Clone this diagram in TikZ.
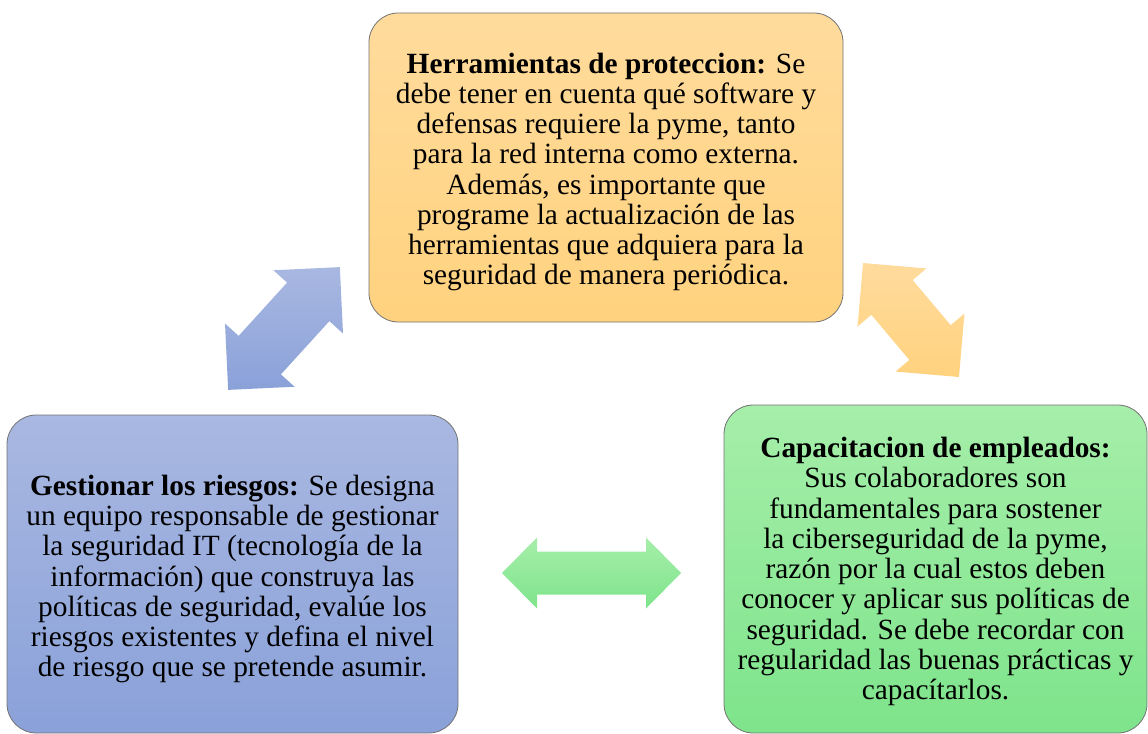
\documentclass[tikz,border=0pt]{standalone}
\usepackage{fontspec}
\setmainfont{Liberation Serif}
\definecolor{orangetop}{HTML}{FFDB9C}
\definecolor{orangebot}{HTML}{FFD27E}
\definecolor{bluetop}{HTML}{A9B8E1}
\definecolor{bluebot}{HTML}{8AA1D9}
\definecolor{greentop}{HTML}{A6EEAA}
\definecolor{greenbot}{HTML}{7EE48B}
\tikzset{
    block/.style={
        draw=black!55,
        line width=0.6pt,
        rounded corners=22pt,
        align=center,
        inner sep=0pt,
        font=\fontsize{22}{22.7}\selectfont,
    },
    % block arrow along the x axis, tips at -\al and \al
    dblarrow/.pic={
        \shade[pic actions] (-\al,0) -- (-\al+\ah,\hh) -- (-\al+\ah,\hs)
            -- (\al-\ah,\hs) -- (\al-\ah,\hh) -- (\al,0) -- (\al-\ah,-\hh)
            -- (\al-\ah,-\hs) -- (-\al+\ah,-\hs) -- (-\al+\ah,-\hh) -- cycle;
    }
}

\begin{document}
\begin{tikzpicture}[x=0.75pt, y=-0.75pt]
\useasboundingbox (0,0) rectangle (1148,734);

\node[block, minimum width=355.5pt, minimum height=231.75pt,
      top color=orangetop, bottom color=orangebot] (tools) at (606,167.5)
      {\rule{0pt}{22pt}\textbf{Herramientas de proteccion:} Se\\
       debe tener en cuenta qué software y\\
       defensas requiere la pyme, tanto\\
       para la red interna como externa.\\
       Además, es importante que\\
       programe la actualización de las\\
       herramientas que adquiera para la\\
       seguridad de manera periódica.};
\node[block, minimum width=338.25pt, minimum height=238.5pt,
      top color=bluetop, bottom color=bluebot] (risks) at (232.5,574)
      {\rule{0pt}{23pt}\textbf{Gestionar los riesgos:} Se designa\\
       un equipo responsable de gestionar\\
       la seguridad IT (tecnología de la\\
       información) que construya las\\
       políticas de seguridad, evalúe los\\
       riesgos existentes y defina el nivel\\
       de riesgo que se pretende asumir.};
\node[block, minimum width=317.25pt, minimum height=246pt,
      top color=greentop, bottom color=greenbot] (staff) at (935.5,569)
      {\rule{0pt}{19pt}\textbf{Capacitacion de empleados:}\\
       Sus colaboradores son\\
       fundamentales para sostener\\
       la ciberseguridad de la pyme,\\
       razón por la cual estos deben\\
       conocer y aplicar sus políticas de\\
       seguridad. Se debe recordar con\\
       regularidad las buenas prácticas y\\
       capacítarlos.};

% arrows between the blocks
\def\al{83}\def\ah{47}\def\hh{47}\def\hs{28.6}
\pic[rotate=47.7, top color=bluetop, bottom color=bluebot] at (284,328.5) {dblarrow};
\def\al{74.5}\def\ah{45}\def\hh{45}\def\hs{27}
\pic[rotate=-49.9, top color=orangetop, bottom color=orangebot] at (911,320) {dblarrow};
\def\al{89.5}\def\ah{35}\def\hh{35.5}\def\hs{21.5}
\pic[top color=greentop, bottom color=greenbot] at (591.5,573) {dblarrow};
\end{tikzpicture}
\end{document}
